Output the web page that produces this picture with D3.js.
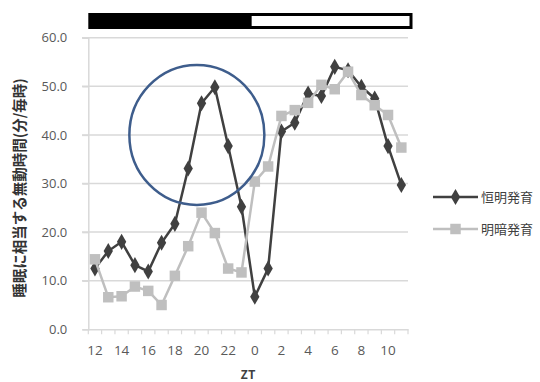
<!DOCTYPE html>
<html><head><meta charset="utf-8">
<script src="https://cdn.jsdelivr.net/npm/d3@7"></script>
<style>body{margin:0;background:#fff}svg{display:block}</style>
</head><body>
<svg id="c" width="540" height="382"></svg>
<script>
const categories = ["12","13","14","15","16","17","18","19","20","21","22","23","0","1","2","3","4","5","6","7","8","9","10","11"];
const tickLabels = ["12","14","16","18","20","22","0","2","4","6","8","10"];
const seriesConstant = [12.5,16.1,18.0,13.2,11.9,17.8,21.7,33.1,46.5,49.8,37.7,25.2,6.7,12.5,40.7,42.5,48.5,48.0,54.0,53.3,49.9,47.5,37.7,29.7];
const seriesLD = [14.4,6.6,6.8,8.8,7.9,5.0,11.0,17.1,24.0,19.8,12.5,11.7,30.4,33.5,43.9,45.1,46.6,50.3,49.4,53.0,48.2,46.1,44.1,37.4];
const seriesNames = ["恒明発育","明暗発育"];
const yTicks = [0,10,20,30,40,50,60];

const svg = d3.select("#c");
const font = "'Noto Sans CJK JP','Noto Sans',sans-serif";
const numFont = "'Open Sans','Noto Sans',sans-serif";
const x = d3.scaleBand().domain(categories).range([88.3, 408]).padding(0);
const y = d3.scaleLinear().domain([0,60]).range([329.3, 37.7]);
const cx = d => x(d) + x.bandwidth()/2;

// grid
svg.append("g").selectAll("line").data(yTicks.filter(t=>t>0)).join("line")
  .attr("x1", 82).attr("x2", 408).attr("y1", d=>y(d)).attr("y2", d=>y(d))
  .attr("stroke", "#d9d9d9").attr("stroke-width", 1.5);

// y axis
const ya = svg.append("g").attr("transform", `translate(${x.range()[0]},0)`)
  .call(d3.axisLeft(y).tickValues(yTicks).tickFormat(d3.format(".1f")).tickSize(6));
ya.select(".domain").attr("stroke", "#d9d9d9").attr("stroke-width", 1.5);
ya.selectAll(".tick line").attr("stroke", "#d9d9d9").attr("stroke-width", 1.5);
ya.selectAll("text").attr("fill", "#595959").style("font-family", numFont).style("font-size", "13px").attr("x", -21);

// x axis
const xa = svg.append("g").attr("transform", `translate(0,${y(0)})`)
  .call(d3.axisBottom(x).tickValues(tickLabels).tickSize(0).tickPadding(16));
xa.select(".domain").attr("stroke", "#d9d9d9").attr("stroke-width", 1.5);
xa.selectAll("text").attr("fill", "#595959").style("font-family", numFont).style("font-size", "13.5px");
// boundary ticks
svg.append("g").selectAll("line").data(d3.range(categories.length + 1)).join("line")
  .attr("x1", i=> x.range()[0] + i*x.bandwidth()).attr("x2", i=> x.range()[0] + i*x.bandwidth())
  .attr("y1", y(0)).attr("y2", y(0)+5).attr("stroke", "#d9d9d9").attr("stroke-width", 1.2);

// axis titles
svg.append("text").attr("x", 248).attr("y", 379).attr("text-anchor","middle")
  .style("font-family", font).style("font-size","12px").style("font-weight","bold").attr("fill","#404040").text("ZT");
svg.append("text").attr("transform", "translate(25,188) rotate(-90)").attr("text-anchor","middle")
  .style("font-family", font).style("font-size","14.5px").style("font-weight","bold").attr("fill","#333").text("睡眠に相当する無動時間(分/毎時)");

// light/dark bar
const barY = 13, barH = 16;
const x0 = x.range()[0], xm = x("0"), x1 = x.range()[1];
svg.append("rect").attr("x", x0).attr("y", barY).attr("width", xm - x0 + 2).attr("height", barH).attr("fill", "#000");
svg.append("rect").attr("x", xm + 2).attr("y", barY + 1.5).attr("width", x1 - xm + 1).attr("height", barH - 3)
  .attr("fill", "#fff").attr("stroke", "#000").attr("stroke-width", 3);

// lines
const line = d3.line().x((d,i)=>cx(categories[i])).y(d=>y(d));
function drawSeries(data, color, marker, size){
  svg.append("path").datum(data).attr("d", line).attr("fill","none").attr("stroke", color).attr("stroke-width", 2.5);
  svg.append("g").selectAll("path").data(data).join("path")
    .attr("transform", (d,i)=>`translate(${cx(categories[i])},${y(d)})`)
    .attr("d", d3.symbol().type(marker).size(size)).attr("fill", color);
}
drawSeries(seriesConstant, "#404040", d3.symbolDiamond, 75);
drawSeries(seriesLD, "#bfbfbf", d3.symbolSquare, 110);

// annotation circle
svg.append("ellipse").attr("cx", x.range()[0] + 8.15*x.bandwidth()).attr("cy", y(40))
  .attr("rx", 67.5).attr("ry", 70).attr("fill","none").attr("stroke","#3e5d8c").attr("stroke-width", 2.5);

// legend
const lg = [{name:seriesNames[0], color:"#404040", type:d3.symbolDiamond, size:75, yy:197},
            {name:seriesNames[1], color:"#bfbfbf", type:d3.symbolSquare, size:110, yy:229}];
const L = svg.append("g").selectAll("g").data(lg).join("g");
L.append("line").attr("x1",433).attr("x2",478).attr("y1",d=>d.yy).attr("y2",d=>d.yy).attr("stroke",d=>d.color).attr("stroke-width",2.5);
L.append("path").attr("transform", d=>`translate(455.5,${d.yy})`).attr("d", d=>d3.symbol().type(d.type).size(d.size)()).attr("fill", d=>d.color);
L.append("text").attr("x",481).attr("y",d=>d.yy+5).style("font-family",font).style("font-size","13px").attr("fill","#404040").text(d=>d.name);
</script>
</body></html>
